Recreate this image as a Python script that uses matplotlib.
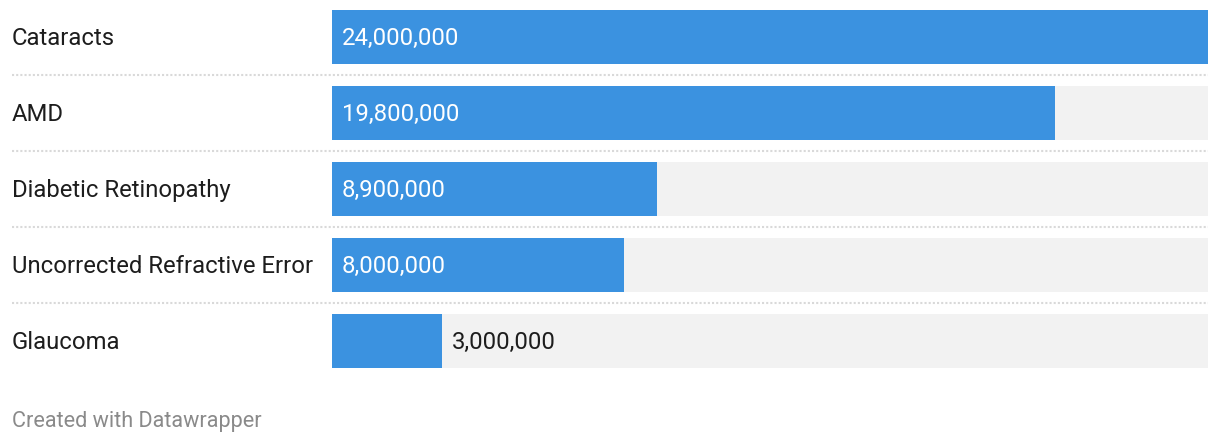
import matplotlib.pyplot as plt
from matplotlib.transforms import blended_transform_factory

categories = ["Cataracts", "AMD", "Diabetic Retinopathy",
              "Uncorrected Refractive Error", "Glaucoma"]
values = [24000000, 19800000, 8900000, 8000000, 3000000]
value_labels = ["24,000,000", "19,800,000", "8,900,000", "8,000,000", "3,000,000"]

BLUE = "#3b92e0"
BG = "#f2f2f2"
TEXT = "#1d1d1d"
W, H = 1220, 444
FS = 17.2

plt.rcParams["font.family"] = ["Roboto", "DejaVu Sans"]

fig = plt.figure(figsize=(W / 100, H / 100), dpi=100)
# axes in pixel layout: bars span x 332..1208, rows span y 10..368 (from top)
ax = fig.add_axes([332 / W, (H - 368) / H, 876 / W, 358 / H])
vmax = max(values)
n = len(categories)
ax.set_xlim(0, vmax)
ax.set_ylim(n - 1 + 0.355, -0.355)
ax.axis("off")

ypos = list(range(n))
ax.barh(ypos, [vmax] * n, height=0.71, color=BG, left=0)
ax.barh(ypos, values, height=0.71, color=BLUE)

# px -> data offset
px = vmax / 876
dy = 0.02  # nudge text down a touch
lbl_tr = blended_transform_factory(fig.transFigure, ax.transData)
for y, cat, v, lab in zip(ypos, categories, values, value_labels):
    ax.text(12 / W, y + dy, cat, transform=lbl_tr, ha="left", va="center",
            fontsize=FS, color=TEXT)
    if v > vmax * 0.2:
        ax.text(10 * px, y + dy, lab, ha="left", va="center", fontsize=FS,
                color="white")
    else:
        ax.text(v + 10 * px, y + dy, lab, ha="left", va="center", fontsize=FS,
                color=TEXT)

# dotted separators between rows
for i in range(n - 1):
    ax.plot([-320 * px, vmax], [i + 0.5, i + 0.5], color="#d9d9d9",
            linewidth=1.5, linestyle=(0, (1, 1)), clip_on=False)

fig.text(12 / W, 1 - 421 / H, "Created with Datawrapper", ha="left",
         va="center", fontsize=15.6, color="#8a8a8a")

fig.savefig("out.png", dpi=100)
